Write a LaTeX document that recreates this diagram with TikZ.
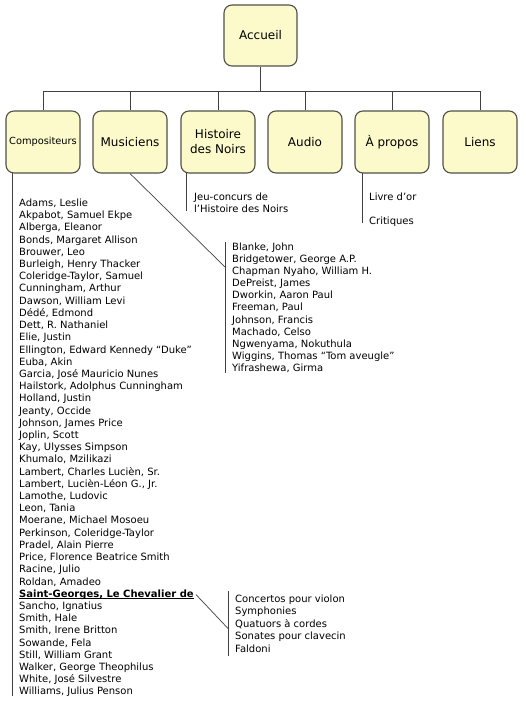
\documentclass[tikz,border=0pt]{standalone}
\usepackage{fontspec}
\setmainfont{DejaVu Sans}
\definecolor{boxfill}{HTML}{FCFACB}
\definecolor{boxdraw}{HTML}{505048}
\definecolor{linec}{HTML}{404040}
\newcommand\ulbold[1]{\setbox0\hbox{\bfseries #1}\rlap{\rule[-1.8pt]{\wd0}{0.9pt}}\box0}
\tikzset{
  box/.style={draw=boxdraw, fill=boxfill, line width=1.1pt, rounded corners=8pt,
    minimum width=74pt, minimum height=62pt, align=center, inner sep=0pt,
    font=\fontsize{12}{15}\selectfont},
  conn/.style={draw=linec, line width=0.9pt},
  item/.style={anchor=base west, inner sep=0pt, font=\fontsize{10}{12}\selectfont, text=black},
}
\begin{document}
\begin{tikzpicture}[x=1pt,y=-1pt]
\useasboundingbox (0,0) rectangle (525,701);
% boxes
\node[box, minimum width=73pt, minimum height=61pt] (acc) at (260.5,35.5) {Accueil};
\node[box] (comp) at (43,142) {\fontsize{9.8}{12}\selectfont Compositeurs};
\node[box] (mus) at (130,142) {Musiciens};
\node[box] (hist) at (218,142) {Histoire\\des Noirs};
\node[box] (aud) at (305,142) {Audio};
\node[box] (apr) at (392,142) {À propos};
\node[box] (lie) at (480,142) {Liens};
% bus
\coordinate (bus) at (260.5,91);
\draw[conn] (acc.south) -- (bus);
\foreach \n in {comp,mus,hist,aud,apr,lie} \draw[conn] (\n.north) |- (bus);
% compositeurs list
\coordinate (cT) at (12,173);
\coordinate (cB) at (12,696);
\draw[conn] (cT) -- (cB);
\foreach \t [count=\i from 0] in {{Adams, Leslie},{Akpabot, Samuel Ekpe},{Alberga, Eleanor},
  {Bonds, Margaret Allison},{Brouwer, Leo},{Burleigh, Henry Thacker},{Coleridge-Taylor, Samuel},
  {Cunningham, Arthur},{Dawson, William Levi},{Dédé, Edmond},{Dett, R. Nathaniel},{Elie, Justin},
  {Ellington, Edward Kennedy “Duke”},{Euba, Akin},{Garcia, José Mauricio Nunes},
  {Hailstork, Adolphus Cunningham},{Holland, Justin},{Jeanty, Occide},{Johnson, James Price},
  {Joplin, Scott},{Kay, Ulysses Simpson},{Khumalo, Mzilikazi},{Lambert, Charles Lucièn, Sr.},
  {Lambert, Lucièn-Léon G., Jr.},{Lamothe, Ludovic},{Leon, Tania},{Moerane, Michael Mosoeu},
  {Perkinson, Coleridge-Taylor},{Pradel, Alain Pierre},{Price, Florence Beatrice Smith},
  {Racine, Julio},{Roldan, Amadeo},{\ulbold{Saint-Georges, Le Chevalier de}},
  {Sancho, Ignatius},{Smith, Hale},{Smith, Irene Britton},{Sowande, Fela},{Still, William Grant},
  {Walker, George Theophilus},{White, José Silvestre},{Williams, Julius Penson}}
  \node[item] (c\i) at (19,206.5+12.21*\i) {\t};
% Saint-Georges sub-list
\coordinate (sT) at (228.5,591);
\coordinate (sB) at (228.5,656);
\coordinate (sM) at (228.5,629);
\draw[conn] (sT) -- (sB);
\draw[conn, line width=0.7pt] ([xshift=2pt]c32.east) -- (sM);
\foreach \t [count=\i from 0] in {Concertos pour violon,Symphonies,Quatuors à cordes,Sonates pour clavecin,Faldoni}
  \node[item] (s\i) at (235,602.5+12.4*\i) {\t};
% Musiciens list
\coordinate (mT) at (225,242);
\coordinate (mB) at (225,373);
\coordinate (mM) at (225,267);
\draw[conn] (mT) -- (mB);
\draw[conn, line width=0.7pt] (mus.south) -- (mM);
\foreach \t [count=\i from 0] in {{Blanke, John},{Bridgetower, George A.P.},{Chapman Nyaho, William H.},
  {DePreist, James},{Dworkin, Aaron Paul},{Freeman, Paul},{Johnson, Francis},{Machado, Celso},
  {Ngwenyama, Nokuthula},{Wiggins, Thomas “Tom aveugle”},{Yifrashewa, Girma}}
  \node[item] (m\i) at (232,250+12.17*\i) {\t};
% Histoire list
\coordinate (hT) at (186,173);
\coordinate (hB) at (186,211);
\draw[conn] (hT) -- (hB);
\node[item] (h0) at (194,200) {Jeu-concurs de};
\node[item] (h1) at (194,212) {l’Histoire des Noirs};
% A propos list
\coordinate (aT) at (362,173);
\coordinate (aB) at (362,223);
\draw[conn] (aT) -- (aB);
\node[item] (a0) at (369,200) {Livre d’or};
\node[item] (a1) at (369,224) {Critiques};
\end{tikzpicture}
\end{document}
